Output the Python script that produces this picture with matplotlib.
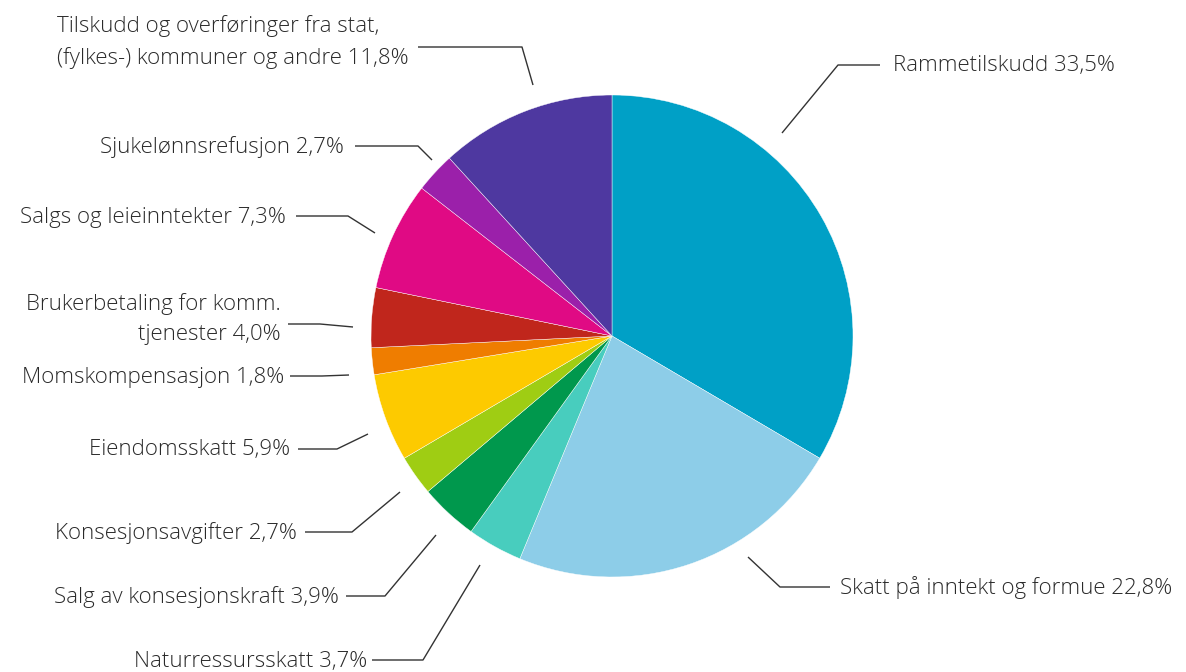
import matplotlib
matplotlib.use("Agg")
import matplotlib.pyplot as plt

# andel av inntektene, i prosent (med klokka fra toppen)
categories = ["Rammetilskudd", "Skatt på inntekt og formue", "Naturressursskatt",
              "Salg av konsesjonskraft", "Konsesjonsavgifter", "Eiendomsskatt",
              "Momskompensasjon", "Brukerbetaling for komm.\ntjenester",
              "Salgs og leieinntekter", "Sjukelønnsrefusjon",
              "Tilskudd og overføringer fra stat,\n(fylkes-) kommuner og andre"]
shares = [33.5, 22.8, 3.7, 3.9, 2.7, 5.9, 1.8, 4.0, 7.3, 2.7, 11.8]
share_labels = ["33,5%", "22,8%", "3,7%", "3,9%", "2,7%", "5,9%",
                "1,8%", "4,0%", "7,3%", "2,7%", "11,8%"]
colors = ["#00a0c6", "#8dcde8", "#48cdbe", "#00984d", "#9fcd13", "#fdca00",
          "#ef7d00", "#c0261c", "#e00a84", "#9b20aa", "#4e38a0"]

W, H = 1186, 672

# leader lines (pixel coords, y down): start, elbow, end ; text anchor
leaders = [
    [(782, 133), (838, 65), (880, 65)],
    [(748, 557), (780, 587), (830, 587)],
    [(480, 565), (423, 660), (372, 660)],
    [(436, 535), (385, 596), (346, 596)],
    [(400, 492), (352, 532), (305, 532)],
    [(368, 434), (337, 449), (298, 449)],
    [(349, 375), (322, 376), (290, 376)],
    [(353, 327), (320, 324), (288, 324)],
    [(375, 233), (348, 216), (296, 216)],
    [(432, 160), (418, 146), (355, 146)],
    [(533, 85), (522, 47), (418, 47)],
]
text_pos = [
    (893, 66, "left"), (840, 588, "left"), (367, 661, "right"),
    (339, 597, "right"), (297, 533, "right"), (290, 450, "right"),
    (284, 377, "right"), (281, 319, "right"), (286, 217, "right"),
    (344, 147, "right"), (57, 42, "left"),
]

fig = plt.figure(figsize=(W / 100, H / 100), dpi=100)
ax = fig.add_axes([0, 0, 1, 1])

ax.pie(shares, colors=colors, startangle=90, counterclock=False,
       center=(612, H - 336), radius=241, frame=True,
       wedgeprops=dict(edgecolor="white", linewidth=0.3))
ax.set_xlim(0, W)
ax.set_ylim(0, H)
ax.set_aspect("equal")
ax.axis("off")

for pts in leaders:
    xs = [p[0] for p in pts]
    ys = [H - p[1] for p in pts]
    ax.plot(xs, ys, color="#333333", lw=1.0, solid_capstyle="butt")

for cat, lab, (x, y, ha) in zip(categories, share_labels, text_pos):
    ax.text(x, H - y, cat + " " + lab, ha=ha, va="center",
            fontsize=16, color="#2a2a2a", family="Open Sans", weight="light",
            linespacing=1.55, multialignment=ha)

fig.savefig("out.png", dpi=100)
